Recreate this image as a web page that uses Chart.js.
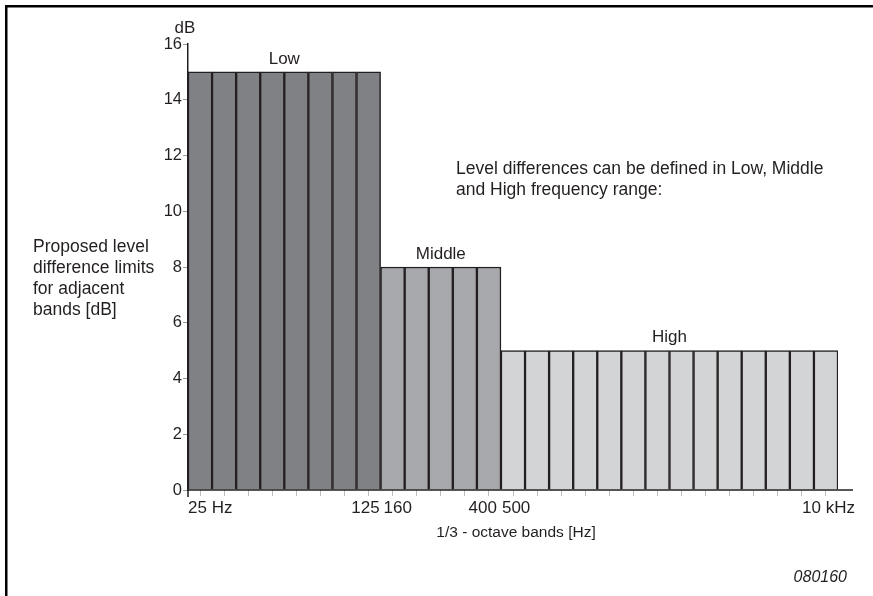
<!DOCTYPE html>
<html>
<head>
<meta charset="utf-8">
<script src="https://cdn.jsdelivr.net/npm/chart.js@4"></script>
<style>
  html, body { margin: 0; padding: 0; background: #fff; }
  #wrap { width: 873px; height: 596px; position: relative; }
</style>
</head>
<body>
<div id="wrap"><canvas id="myChart" width="873" height="596"></canvas></div>
<script>
// 1/3-octave bands, 25 Hz .. 10 kHz
var bands = ["25", "31.5", "40", "50", "63", "80", "100", "125",
             "160", "200", "250", "315", "400",
             "500", "630", "800", "1k", "1.25k", "1.6k", "2k", "2.5k", "3.15k", "4k", "5k", "6.3k", "8k", "10k"];
var groupNames = ["Low", "Middle", "High"];
var groupSizes = [8, 5, 14];
var groupLimits = [15, 8, 5];
var groupColors = ["#808185", "#a7a8ac", "#d3d4d6"];
var yTicks = [0, 2, 4, 6, 8, 10, 12, 14, 16];

// 每個頻帶的值和顏色
var values = [], colors = [];
groupSizes.forEach(function (n, g) {
	for (var i = 0; i < n; i++) { values.push(groupLimits[g]); colors.push(groupColors[g]); }
});

var FONT = "'Liberation Sans', Arial, sans-serif";

var extras = {
	id: 'extras',
	afterDraw: function (chart) {
		var c = chart.ctx, xs = chart.scales.x, ys = chart.scales.y, a = chart.chartArea;
		var half = (xs.getPixelForValue(1) - xs.getPixelForValue(0)) / 2;
		c.save();
		// 外框 (top + left)
		c.fillStyle = '#000';
		c.fillRect(5, 5, 868, 2.5);
		c.fillRect(5, 5, 2.5, 591);

		// x axis line, a bit longer than the bars
		c.strokeStyle = '#231f20';
		c.lineWidth = 1.5;
		c.beginPath();
		c.moveTo(a.left, a.bottom);
		c.lineTo(a.right + 15, a.bottom);
		c.moveTo(a.left, a.bottom);
		c.lineTo(a.left, a.bottom + 7);
		c.stroke();

		c.fillStyle = '#231f20';
		c.font = '17px ' + FONT;
		c.textBaseline = 'middle';

		// group labels above bars
		var start = 0;
		groupNames.forEach(function (name, g) {
			var l = xs.getPixelForValue(start) - half;
			var r = xs.getPixelForValue(start + groupSizes[g] - 1) + half;
			c.textAlign = 'center';
			c.fillText(name, (l + r) / 2, ys.getPixelForValue(groupLimits[g]) - 13);
			start += groupSizes[g];
		});

		// band labels under the axis
		var ly = a.bottom + 18;
		function edge(i, side) { return xs.getPixelForValue(i) + side * half; }
		c.textAlign = 'left';  c.fillText('25 Hz', edge(0, -1), ly);
		c.textAlign = 'right'; c.fillText('125', edge(7, 1) - 1, ly);
		c.textAlign = 'left';  c.fillText('160', edge(8, -1) + 3, ly);
		c.textAlign = 'right'; c.fillText('400', edge(12, 1) - 4, ly);
		c.textAlign = 'left';  c.fillText('500', edge(13, -1) + 1, ly);
		c.textAlign = 'right'; c.fillText('10 kHz', edge(26, 1) + 17, ly);

		c.textAlign = 'center';
		c.fillText('dB', 185, 28);
		c.font = '15.5px ' + FONT;
		c.fillText('1/3 - octave bands [Hz]', 516, 533);

		c.font = '17.5px ' + FONT;
		c.textAlign = 'left';
		c.fillText('Level differences can be defined in Low, Middle', 456, 169);
		c.fillText('and High frequency range:', 456, 190);
		['Proposed level', 'difference limits', 'for adjacent', 'bands [dB]'].forEach(function (t, i) {
			c.fillText(t, 33, 247 + i * 21);
		});

		c.font = 'italic 16px ' + FONT;
		c.textAlign = 'right';
		c.fillText('080160', 847, 578);
		c.restore();
	}
};

var ctx = document.getElementById("myChart");
var myChart = new Chart(ctx, {
	type: 'bar',
	data: {
		labels: bands,
		datasets: [{
			data: values,
			backgroundColor: colors,
			borderColor: '#231f20',
			borderWidth: 1.5,
			borderSkipped: 'bottom',
			categoryPercentage: 1,
			barPercentage: 1
		}]
	},
	options: {
		responsive: false,
		animation: false,
		layout: { padding: { left: 148, top: 44, right: 35, bottom: 96 } },
		plugins: { legend: { display: false }, tooltip: { enabled: false } },
		scales: {
			x: {
				border: { display: false },
				grid: { drawOnChartArea: false, offset: false, tickLength: 6, color: '#bdbdbd', lineWidth: 1 },
				ticks: { display: false },
				afterFit: function (s) { s.height = 10; }
			},
			y: {
				min: 0, max: 16,
				border: { color: '#231f20', width: 1.5 },
				grid: { drawOnChartArea: false, tickLength: 5, color: '#9a9a9a', lineWidth: 1 },
				afterBuildTicks: function (s) { s.ticks = yTicks.map(function (v) { return { value: v }; }); },
				ticks: { color: '#231f20', padding: 1, font: { size: 16.5, family: FONT } },
				afterFit: function (s) { s.width = 40; }
			}
		}
	},
	plugins: [extras]
});
</script>
</body>
</html>
